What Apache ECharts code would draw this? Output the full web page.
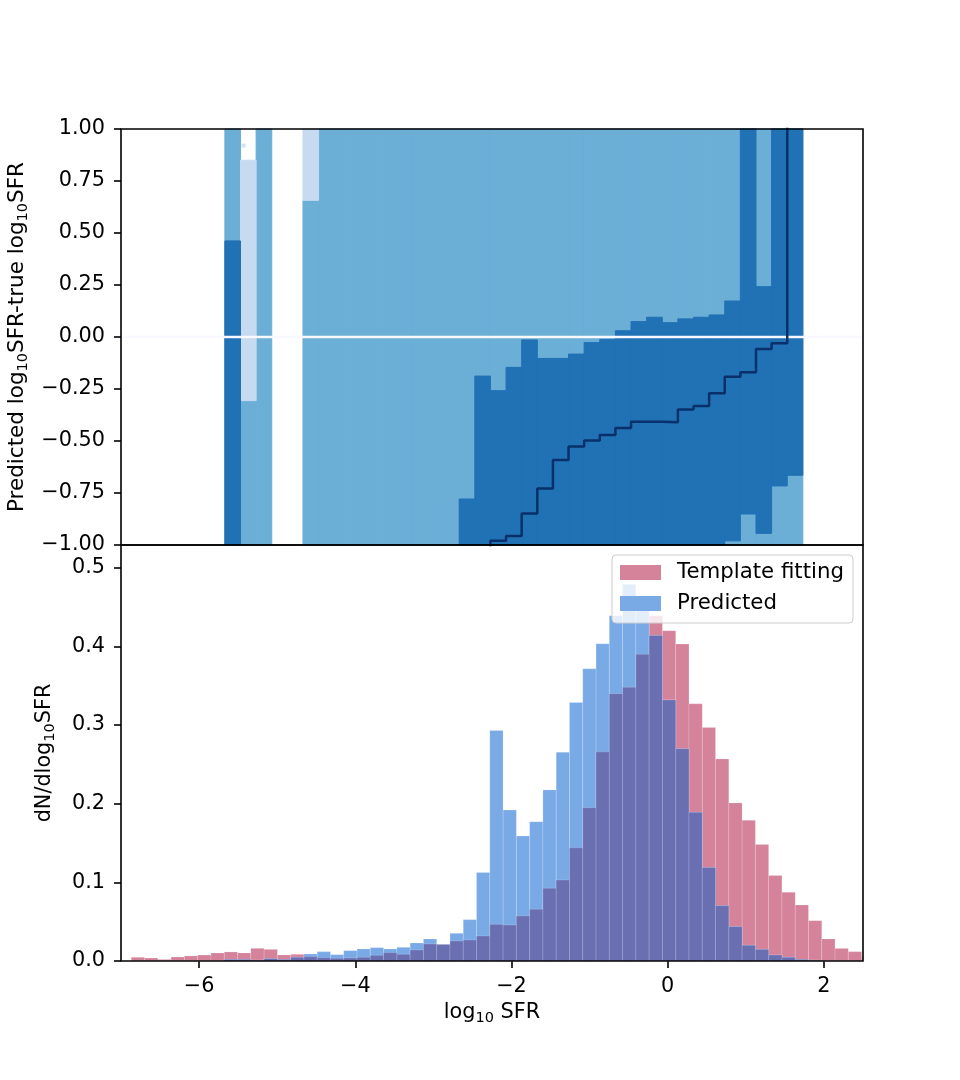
<!DOCTYPE html>
<html>
<head>
<meta charset="utf-8">
<script src="https://cdn.jsdelivr.net/npm/echarts@6/dist/echarts.min.js"></script>
<style>
html, body { margin: 0; padding: 0; background: #fff; }
#chart { width: 960px; height: 1080px; }
</style>
</head>
<body>
<div id="chart"></div>
<script>
// top panel: percentile bands per bin of log10 SFR (width 0.2)
const topStart = -5.67
const topWidth = 0.2
// values beyond the axis range are written as +-1.5
const outerLo = [-1.5, -1.5, -1.5, null, null, -1.5, -1.5, -1.5, -1.5, -1.5, -1.5, -1.5, -1.5, -1.5, -1.5, -1.5, -1.5, -1.5, -1.5, -1.5, -1.5, -1.5, -1.5, -1.5, -1.5, -1.5, -1.5, -1.5, -1.5, -1.5, -1.5, -1.5, -1.5, -1.5, -1.5, -1.5, -1.5]
const outerHi = [1.5, -0.306, 1.5, null, null, 0.657, 1.5, 1.5, 1.5, 1.5, 1.5, 1.5, 1.5, 1.5, 1.5, 1.5, 1.5, 1.5, 1.5, 1.5, 1.5, 1.5, 1.5, 1.5, 1.5, 1.5, 1.5, 1.5, 1.5, 1.5, 1.5, 1.5, 1.5, 1.5, 1.5, 1.5, 1.5]
const paleLo = [null, -0.306, null, null, null, 0.657, null, null, null, null, null, null, null, null, null, null, null, null, null, null, null, null, null, null, null, null, null, null, null, null, null, null, null, null, null, null, null]
const paleHi = [null, 0.85, null, null, null, 1.5, null, null, null, null, null, null, null, null, null, null, null, null, null, null, null, null, null, null, null, null, null, null, null, null, null, null, null, null, null, null, null]
const innerLo = [-1.5, null, null, null, null, null, null, null, null, null, null, null, null, null, null, -1.5, -1.5, -1.5, -1.5, -1.5, -1.5, -1.5, -1.5, -1.5, -1.5, -1.5, -1.5, -1.5, -1.5, -1.5, -1.5, -1.5, -0.98, -0.851, -0.944, -0.716, -0.665]
const innerHi = [0.462, null, null, null, null, null, null, null, null, null, null, null, null, null, null, -0.779, -0.188, -0.258, -0.146, -0.014, -0.103, -0.103, -0.082, -0.027, -0.011, 0.030, 0.074, 0.095, 0.069, 0.087, 0.095, 0.106, 0.173, 1.5, 0.242, 1.5, 1.5]
const medianVals = [-1.3, -1.3, -1.3, null, null, -1.3, -1.3, -1.3, -1.3, -1.3, -1.3, -1.3, -1.3, -1.3, -1.3, -1.3, -1.3, -0.979, -0.957, -0.848, -0.728, -0.591, -0.527, -0.498, -0.471, -0.437, -0.407, -0.407, -0.41, -0.348, -0.332, -0.271, -0.191, -0.170, -0.058, -0.030, 1.5]
const strayPoint = [[-5.43, 0.92]]

// bottom panel: normalised histograms (bin width 0.17)
const histStart = -6.868
const histWidth = 0.17
const templateVals = [0.0047, 0.0038, 0.002, 0.0051, 0.0064, 0.0076, 0.0102, 0.0115, 0.0102, 0.0161, 0.0148, 0.0076, 0.0085, 0.0055, 0.0042, 0.0034, 0.0038, 0.0047, 0.0072, 0.0106, 0.0085, 0.014, 0.0216, 0.0212, 0.0254, 0.0267, 0.0318, 0.0466, 0.0458, 0.0573, 0.0658, 0.0925, 0.103, 0.144, 0.195, 0.266, 0.340, 0.348, 0.390, 0.439, 0.420, 0.403, 0.327, 0.297, 0.257, 0.201, 0.179, 0.148, 0.1086, 0.0874, 0.0712, 0.0513, 0.028, 0.016, 0.0119, 0.006]
const predictedVals = [0, 0, 0, 0, 0, 0, 0, 0.002, 0.002, 0.001, 0.003, 0.002, 0.0047, 0.0089, 0.0119, 0.0081, 0.0132, 0.0153, 0.017, 0.0153, 0.0174, 0.0229, 0.028, 0.0208, 0.0352, 0.0526, 0.1124, 0.293, 0.192, 0.159, 0.177, 0.2176, 0.2655, 0.3287, 0.3715, 0.4033, 0.439, 0.479, 0.463, 0.414, 0.332, 0.270, 0.189, 0.119, 0.0704, 0.0437, 0.020, 0.0148, 0.0076, 0.0047, 0.002, 0.001, 0, 0, 0, 0]

// tick labels
const xTicks = [-6, -4, -2, 0, 2]
const histTicks = [0, 0.1, 0.2, 0.3, 0.4, 0.5]

const font = 'DejaVu Sans'
const minus = (s) => String(s).replace('-', '\u2212')

// [x0, x1, lo, hi] rows for the band / bar series
const bandRows = (lo, hi) => {
	const rows = []
	lo.forEach((v, i) => {
		if (v === null || hi[i] === null) return
		rows.push([topStart + i * topWidth, topStart + (i + 1) * topWidth, v, hi[i]])
	})
	return rows
}
const histRows = (vals) => vals.map((v, i) => [histStart + i * histWidth, histStart + (i + 1) * histWidth, 0, v])
const overlapVals = templateVals.map((v, i) => Math.min(v, predictedVals[i]))

const medianLine = []
medianVals.forEach((m, i) => {
	if (m === null) return
	medianLine.push([topStart + i * topWidth, m])
	medianLine.push([topStart + (i + 1) * topWidth, m])
})

// bands: stroke with own colour so neighbouring bins join without seams
// hist bars: faint light edge like the alpha bars of the original
const rectItem = (seamless) => (params, api) => {
	const a = api.coord([api.value(0), api.value(3)])
	const b = api.coord([api.value(1), api.value(2)])
	const shape = echarts.graphic.clipRectByRect({
		x: a[0], y: a[1], width: b[0] - a[0], height: b[1] - a[1]
	}, params.coordSys)
	if (!shape) return
	const color = api.visual('color')
	return {
		type: 'rect',
		shape: shape,
		style: seamless
			? { fill: color, stroke: color, lineWidth: 1 }
			: { fill: color, stroke: 'rgba(255,255,255,0.28)', lineWidth: 0.6 }
	}
}

const bandSeries = (name, rows, color, z, seamless, grid) => ({
	type: 'custom',
	name: name,
	xAxisIndex: grid,
	yAxisIndex: grid,
	renderItem: rectItem(seamless),
	encode: { x: [0, 1], y: [2, 3] },
	itemStyle: { color: color },
	data: rows,
	silent: true,
	z: z
})

const tickStyle = { show: true, length: 7, lineStyle: { color: '#000', width: 1.6 } }
const labelStyle = { color: '#000', fontSize: 20.8, fontFamily: font }
const nameStyle = {
	color: '#000', fontSize: 20.8, fontFamily: font, lineHeight: 26,
	rich: { s: { fontSize: 14.5, lineHeight: 14, verticalAlign: 'bottom', fontFamily: font, color: '#000' } }
}
const noLine = { show: false, onZero: false }
const gridBox = { left: 121, width: 742, height: 416, show: true, backgroundColor: 'transparent', borderColor: '#000', borderWidth: 1.6, z: 10, containLabel: false, outerBoundsMode: 'none' }

const option = {
	animation: false,
	backgroundColor: '#fff',
	grid: [
		Object.assign({ top: 129 }, gridBox),
		Object.assign({ top: 545 }, gridBox)
	],
	legend: {
		data: ['Template fitting', 'Predicted'],
		orient: 'vertical',
		left: 612,
		top: 555,
		icon: 'rect',
		itemWidth: 41,
		itemHeight: 15,
		itemGap: 10,
		padding: [7, 9, 9, 8],
		backgroundColor: 'rgba(255,255,255,0.8)',
		borderColor: '#cccccc',
		borderWidth: 1,
		borderRadius: 4,
		textStyle: { color: '#000', fontSize: 21.3, fontFamily: font, lineHeight: 21, padding: [0, 0, 0, 11] }
	},
	xAxis: [
		{ type: 'value', gridIndex: 0, min: -7, max: 2.5, show: false, axisLine: noLine },
		{
			type: 'value', gridIndex: 1, min: -7, max: 2.5,
			name: 'log{s|10} SFR', nameLocation: 'middle', nameGap: 39, nameTextStyle: nameStyle,
			axisLine: noLine,
			splitLine: { show: false },
			axisTick: Object.assign({ customValues: xTicks }, tickStyle),
			axisLabel: Object.assign({ customValues: xTicks, margin: 15, formatter: (v) => minus(v) }, labelStyle)
		}
	],
	yAxis: [
		{
			type: 'value', gridIndex: 0, min: -1, max: 1, interval: 0.25,
			name: 'Predicted log{s|10}SFR-true log{s|10}SFR', nameLocation: 'middle', nameRotate: 90, nameGap: 89,
			nameTextStyle: Object.assign({}, nameStyle, { fontSize: 21.5 }),
			axisLine: noLine,
			splitLine: { show: false },
			axisTick: tickStyle,
			axisLabel: Object.assign({ margin: 16, formatter: (v) => minus(v.toFixed(2)) }, labelStyle)
		},
		{
			type: 'value', gridIndex: 1, min: 0, max: 0.529,
			name: 'dN/dlog{s|10}SFR', nameLocation: 'middle', nameRotate: 90, nameGap: 63, nameTextStyle: nameStyle,
			axisLine: noLine,
			splitLine: { show: false },
			axisTick: Object.assign({ customValues: histTicks }, tickStyle),
			axisLabel: Object.assign({ customValues: histTicks, margin: 16, formatter: (v) => v.toFixed(1) }, labelStyle)
		}
	],
	series: [
		bandSeries('outer', bandRows(outerLo, outerHi), '#6baed6', 2, true, 0),
		bandSeries('pale', bandRows(paleLo, paleHi), '#c6dbef', 3, true, 0),
		bandSeries('inner', bandRows(innerLo, innerHi), '#2171b5', 4, true, 0),
		{
			type: 'scatter', xAxisIndex: 0, yAxisIndex: 0, data: strayPoint, z: 5,
			symbol: 'rect', symbolSize: 4, itemStyle: { color: '#c6dbef' }, silent: true,
			markLine: {
				silent: true, symbol: 'none', label: { show: false }, z: 5,
				lineStyle: { color: '#f8f8ff', width: 2.4, type: 'solid' },
				data: [{ yAxis: 0 }]
			}
		},
		{
			type: 'line', xAxisIndex: 0, yAxisIndex: 0, data: medianLine, z: 7,
			showSymbol: false, silent: true, clip: true,
			lineStyle: { color: '#08306b', width: 2.5 }
		},
		bandSeries('Template fitting', histRows(templateVals), '#d4839b', 2, false, 1),
		bandSeries('Predicted', histRows(predictedVals), '#7aaae6', 3, false, 1),
		bandSeries('overlap', histRows(overlapVals), '#6a6fb2', 4, false, 1)
	]
}

const chart = echarts.init(document.getElementById('chart'))
chart.setOption(option)
</script>
</body>
</html>
